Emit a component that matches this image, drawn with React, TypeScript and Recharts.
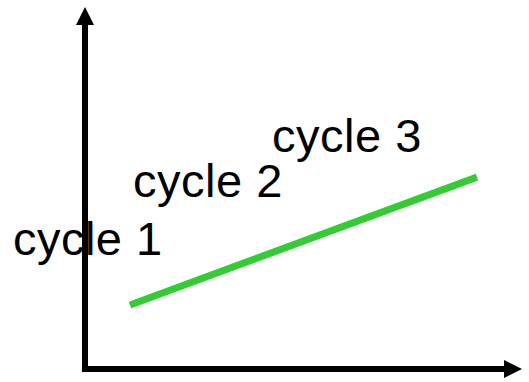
import { LineChart, Line, XAxis, YAxis, ReferenceLine, ReferenceDot } from 'recharts';

// progress line, in axis units (0..100 both ways)
const trendX = [10.3, 89.7];
const trendY = [17.7, 53.0];

const cycleLabels = ['cycle 1', 'cycle 2', 'cycle 3'];
const cycleX = [-16.5, 11.0, 42.8];
const cycleY = [31.5, 47.5, 59.9];

const trendData = trendX.map((x, i) => ({ x, y: trendY[i] }));

const FONT = '"Liberation Sans", Arial, sans-serif';

export default function App() {
  return (
    <div style={{ position: 'absolute', left: 0, top: 0, background: '#fff' }}>
      <LineChart width={529} height={382} data={trendData} margin={{ top: 7, right: 7, bottom: 13, left: 85 }}>
        <defs>
          <marker
            id="arrowHead"
            viewBox="0 0 18 18"
            refX={10}
            refY={9}
            markerWidth={18}
            markerHeight={18}
            markerUnits="userSpaceOnUse"
            orient="auto"
          >
            <path d="M0,0 L18,9 L0,18 Z" fill="#000" />
          </marker>
        </defs>
        <XAxis type="number" dataKey="x" domain={[0, 100]} hide />
        <YAxis type="number" dataKey="y" domain={[0, 100]} hide />
        <ReferenceLine
          segment={[{ x: 0, y: -0.83 }, { x: 0, y: 97.8 }]}
          ifOverflow="visible"
          stroke="#000"
          strokeWidth={6}
          markerEnd="url(#arrowHead)"
        />
        <ReferenceLine
          segment={[{ x: -0.7, y: 0 }, { x: 98.17, y: 0 }]}
          ifOverflow="visible"
          stroke="#000"
          strokeWidth={6}
          markerEnd="url(#arrowHead)"
        />
        <Line
          type="linear"
          dataKey="y"
          stroke="#33cc33"
          strokeWidth={7}
          dot={false}
          isAnimationActive={false}
        />
        {cycleLabels.map((name, i) => (
          <ReferenceDot
            key={name}
            x={cycleX[i]}
            y={cycleY[i]}
            r={0}
            ifOverflow="visible"
            shape={(p: any) => (
              <text x={p.cx} y={p.cy} fontFamily={FONT} fontSize={47} letterSpacing={0.5} fill="#000" textAnchor="start">
                {name}
              </text>
            )}
          />
        ))}
      </LineChart>
    </div>
  );
}
